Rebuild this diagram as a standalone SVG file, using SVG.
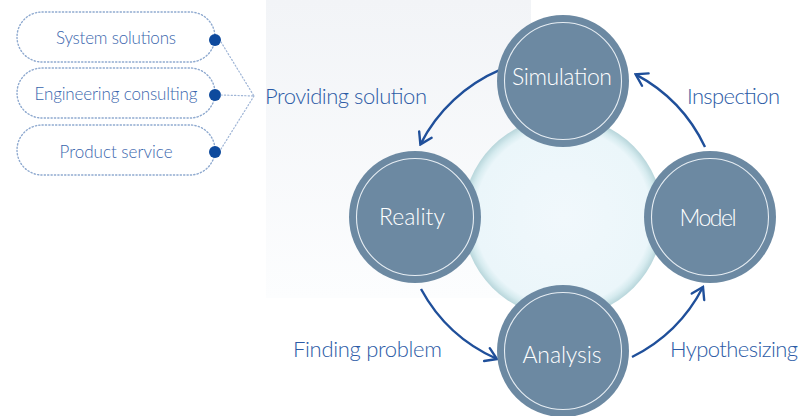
<svg xmlns="http://www.w3.org/2000/svg" width="812" height="416" viewBox="0 0 812 416">
  <defs>
    <linearGradient id="panelGrad" x1="0" y1="0" x2="0" y2="1">
      <stop offset="0" stop-color="#f2f4f7"/>
      <stop offset="1" stop-color="#fcfdfe"/>
    </linearGradient>
    <radialGradient id="hubGrad" cx="0.5" cy="0.5" r="0.5">
      <stop offset="0" stop-color="#f1f8fc"/>
      <stop offset="0.88" stop-color="#ebf6fa"/>
      <stop offset="0.94" stop-color="#d6ebef"/>
      <stop offset="1" stop-color="#b8d6db"/>
    </radialGradient>
    <marker id="chev" viewBox="-13 -9 15 18" markerWidth="15" markerHeight="18" refX="0" refY="0" orient="auto" markerUnits="userSpaceOnUse">
      <path d="M-11,-7 L0,0 L-11,7" fill="none" stroke="#1f4f9a" stroke-width="2.4" stroke-linecap="round" stroke-linejoin="miter"/>
    </marker>
  </defs>
  <style>
    .pill { fill: none; stroke: #8ea9cf; stroke-width: 1.4; stroke-dasharray: 1.2 2.2; stroke-linecap: round; }
    .dot { fill: #0e4a9d; }
    .lead { fill: none; stroke: #9fb5d6; stroke-width: 1.2; stroke-dasharray: 1.2 2.2; stroke-linecap: round; }
    .pill-text { font-family: Lato, "Open Sans", sans-serif; font-weight: 300; font-size: 17px; fill: #3a66ad; text-anchor: middle; }
    .node-disc { fill: #6c89a2; }
    .node-ring { fill: none; stroke: #e6edf3; stroke-width: 1.1; }
    .node-text { font-family: Lato, "Open Sans", sans-serif; font-weight: 300; font-size: 23px; fill: #ffffff; text-anchor: middle; }
    .flow { fill: none; stroke: #1f4f9a; stroke-width: 2.4; marker-end: url(#chev); }
    .flow-text { font-family: Lato, "Open Sans", sans-serif; font-weight: 300; font-size: 22px; fill: #2c5ba6; }
  </style>

  <!-- soft backdrop panel behind the cycle -->
  <rect x="266" y="0" width="265" height="298" fill="url(#panelGrad)"/>

  <!-- central hub -->
  <circle id="hub" cx="563" cy="217" r="100" fill="url(#hubGrad)"/>

  <!-- service pills -->
  <g id="pill-system">
    <rect class="pill" x="17" y="12" width="198" height="50" rx="25"/>
    <text class="pill-text" x="116" y="44" textLength="120">System solutions</text>
    <circle class="dot" cx="215" cy="40" r="6"/>
  </g>
  <g id="pill-engineering">
    <rect class="pill" x="17" y="68" width="198" height="50" rx="25"/>
    <text class="pill-text" x="116" y="100" textLength="163">Engineering consulting</text>
    <circle class="dot" cx="215" cy="95" r="6"/>
  </g>
  <g id="pill-product">
    <rect class="pill" x="17" y="125" width="198" height="50" rx="25"/>
    <text class="pill-text" x="116" y="158" textLength="113">Product service</text>
    <circle class="dot" cx="215" cy="152" r="6"/>
  </g>

  <!-- leader lines from the pills to the label -->
  <g id="leaders">
    <path class="lead" d="M221,42 L254,96"/>
    <path class="lead" d="M221,95 L254,96"/>
    <path class="lead" d="M221,149 L254,96"/>
  </g>

  <!-- cycle connectors -->
  <g id="connectors">
    <path class="flow" d="M500.5,69.7 A160,160 0 0 0 420.4,144.4"/>
    <path class="flow" d="M421,289 A160,160 0 0 0 497,359"/>
    <path class="flow" d="M632,357 A160,160 0 0 0 703,287"/>
    <path class="flow" d="M705,147 A160,160 0 0 0 635.6,74.4"/>
  </g>

  <!-- connector labels -->
  <g id="labels">
    <text class="flow-text" x="265" y="104" textLength="162">Providing solution</text>
    <text class="flow-text" x="687" y="104" textLength="93">Inspection</text>
    <text class="flow-text" x="293" y="357" textLength="149">Finding problem</text>
    <text class="flow-text" x="670" y="357" textLength="128">Hypothesizing</text>
  </g>

  <!-- cycle nodes -->
  <g id="node-simulation">
    <circle class="node-disc" cx="563" cy="81" r="66"/>
    <circle class="node-ring" cx="563" cy="81" r="58.5"/>
    <text class="node-text" x="562" y="85" textLength="100">Simulation</text>
  </g>
  <g id="node-reality">
    <circle class="node-disc" cx="415" cy="217" r="66"/>
    <circle class="node-ring" cx="415" cy="217" r="58.5"/>
    <text class="node-text" x="412" y="225" textLength="66">Reality</text>
  </g>
  <g id="node-model">
    <circle class="node-disc" cx="710" cy="217" r="66"/>
    <circle class="node-ring" cx="710" cy="217" r="58.5"/>
    <text class="node-text" x="708" y="226" textLength="57">Model</text>
  </g>
  <g id="node-analysis">
    <circle class="node-disc" cx="563" cy="351" r="66"/>
    <circle class="node-ring" cx="563" cy="351" r="58.5"/>
    <text class="node-text" x="562" y="363" textLength="79">Analysis</text>
  </g>
</svg>
